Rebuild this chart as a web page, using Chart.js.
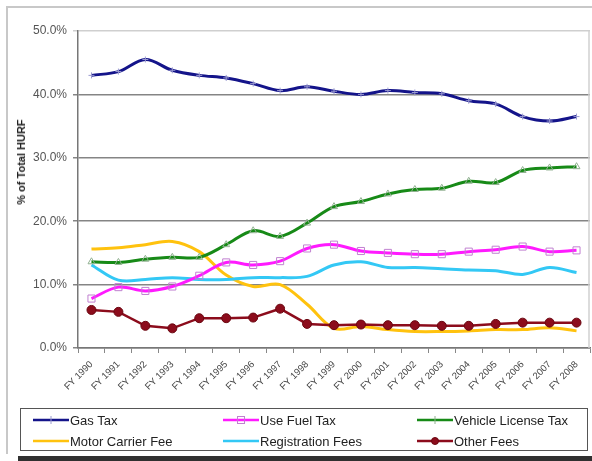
<!DOCTYPE html>
<html>
<head>
<meta charset="utf-8">
<script src="https://cdn.jsdelivr.net/npm/chart.js@4/dist/chart.umd.min.js"></script>
<style>
  html, body { margin: 0; padding: 0; background: #fff; }
  body { width: 592px; height: 461px; position: relative; overflow: hidden; font-family: 'Liberation Sans', Arial, sans-serif; }
  #chart { position: absolute; left: 0; top: 0; }
  .frameTop { position: absolute; left: 7px; top: 6px; width: 585px; height: 0; border-top: 2px solid #c8c8c8; }
  .frameLeft { position: absolute; left: 6px; top: 6px; width: 0; height: 448px; border-left: 2px solid #c8c8c8; }
  .darkBar { position: absolute; left: 18px; top: 456px; width: 574px; height: 5px; background: #303030; }
  #yTitle { position: absolute; left: 21px; top: 162px; transform: translate(-50%, -50%) rotate(-90deg); font-weight: bold; font-size: 11px; color: #222; white-space: nowrap; }
  #legend { position: absolute; left: 20px; top: 408px; width: 566px; height: 41px; border: 1.5px solid #555; }
  .item { position: absolute; height: 16px; display: flex; align-items: center; font-size: 13px; color: #222; white-space: nowrap; }
  .item canvas { margin-right: 1px; }
</style>
</head>
<body>
<div class="frameTop"></div>
<div class="frameLeft"></div>
<!-- canvas a bit wider than the window: Chart.js keeps a few px on the right that the reference plot does not have -->
<canvas id="chart" width="596" height="461"></canvas>
<div id="yTitle">% of Total HURF</div>
<div id="legend"></div>
<div class="darkBar"></div>
<script>
const years = ['FY 1990','FY 1991','FY 1992','FY 1993','FY 1994','FY 1995','FY 1996','FY 1997','FY 1998','FY 1999',
  'FY 2000','FY 2001','FY 2002','FY 2003','FY 2004','FY 2005','FY 2006','FY 2007','FY 2008'];
const gasTax =        [43.0, 43.6, 45.5, 43.8, 43.0, 42.6, 41.7, 40.6, 41.2, 40.5, 40.0, 40.6, 40.3, 40.1, 39.0, 38.5, 36.5, 35.8, 36.5];
const useFuelTax =    [7.8, 9.6, 9.0, 9.7, 11.4, 13.5, 13.1, 13.7, 15.7, 16.3, 15.3, 15.0, 14.8, 14.8, 15.2, 15.5, 16.0, 15.2, 15.4];
const vehicleLicense = [13.6, 13.5, 14.0, 14.3, 14.3, 16.3, 18.5, 17.6, 19.7, 22.3, 23.1, 24.3, 25.0, 25.2, 26.3, 26.1, 28.0, 28.4, 28.6];
const motorCarrier =  [15.6, 15.8, 16.3, 16.8, 15.2, 11.5, 9.7, 10.0, 6.9, 3.1, 3.4, 2.9, 2.6, 2.6, 2.7, 2.9, 2.9, 3.2, 2.7];
const registration =  [13.1, 10.7, 10.8, 11.1, 10.8, 10.8, 11.1, 11.1, 11.3, 13.1, 13.6, 12.7, 12.7, 12.5, 12.3, 12.2, 11.6, 12.7, 11.9];
const otherFees =     [6.0, 5.7, 3.5, 3.1, 4.7, 4.7, 4.8, 6.2, 3.8, 3.6, 3.7, 3.6, 3.6, 3.5, 3.5, 3.8, 4.0, 4.0, 4.0];
const yTicks = [0, 10, 20, 30, 40, 50];

// right edge of the plot area is a thin light line
const plotFrame = {
  id: 'plotFrame',
  beforeDatasetsDraw(chart) {
    const { ctx, chartArea } = chart;
    ctx.save();
    ctx.strokeStyle = '#d0d0d0';
    ctx.lineWidth = 1.5;
    ctx.beginPath();
    ctx.moveTo(chartArea.right - 1, chartArea.top);
    ctx.lineTo(chartArea.right - 1, chartArea.bottom);
    ctx.stroke();
    ctx.restore();
  }
};

const ctx = document.getElementById('chart').getContext('2d');
const chart = new Chart(ctx, {
  type: 'line',
  data: {
    labels: years,
    datasets: [
      { label: 'Gas Tax', data: gasTax, borderColor: '#14148a', borderWidth: 3, tension: 0.35,
        pointStyle: 'cross', pointRadius: 3, pointBorderColor: '#9a9ad0', pointBorderWidth: 1, order: 1 },
      { label: 'Use Fuel Tax', data: useFuelTax, borderColor: '#ff1aff', borderWidth: 3, tension: 0.35,
        pointStyle: 'rect', pointRadius: 5, pointBorderColor: '#c080d0', pointBackgroundColor: 'rgba(0,0,0,0)', pointBorderWidth: 1, order: 2 },
      { label: 'Vehicle License Tax', data: vehicleLicense, borderColor: '#178a17', borderWidth: 3, tension: 0.35,
        pointStyle: 'triangle', pointRadius: 4, pointBorderColor: '#90b090', pointBackgroundColor: 'rgba(0,0,0,0)', pointBorderWidth: 1, order: 3 },
      { label: 'Motor Carrier Fee', data: motorCarrier, borderColor: '#ffc20e', borderWidth: 3, tension: 0.35,
        pointRadius: 0, order: 5 },
      { label: 'Registration Fees', data: registration, borderColor: '#33c8f5', borderWidth: 3, tension: 0.35,
        pointRadius: 0, order: 4 },
      { label: 'Other Fees', data: otherFees, borderColor: '#8c0c1c', borderWidth: 2.5, tension: 0,
        pointStyle: 'circle', pointRadius: 4.5, pointBackgroundColor: '#8c0c1c', pointBorderColor: '#6a0610', pointBorderWidth: 1, order: 0 }
    ]
  },
  options: {
    responsive: false,
    animation: false,
    layout: { padding: { left: 0, top: 31, right: 1, bottom: 58 } },
    plugins: { legend: { display: false }, tooltip: { enabled: false } },
    scales: {
      x: {
        offset: true,
        grid: { offset: true, drawOnChartArea: false, tickLength: 5, color: '#888', lineWidth: 1 },
        border: { color: '#777', width: 1.5 },
        ticks: { minRotation: 45, maxRotation: 45, autoSkip: false, padding: 6,
          font: { family: 'Liberation Sans', size: 9.5 }, color: '#444' },
        afterFit: s => { s.height = 55; s.paddingRight = 0; }
      },
      y: {
        min: 0, max: 50,
        afterBuildTicks: s => { s.ticks = yTicks.map(v => ({ value: v })); },
        grid: { tickLength: 5, lineWidth: 1.5,
          color: c => c.tick && c.tick.value === 50 ? '#cfcfcf' : '#858585' },
        border: { color: '#777', width: 1.5 },
        ticks: { padding: 6, font: { family: 'Liberation Sans', size: 12 }, color: '#555',
          callback: v => v.toFixed(1) + '%' },
        afterFit: s => { s.width = 78; }
      }
    }
  },
  plugins: [plotFrame]
});

// html legend: 3 columns, 2 rows, boxed
const legendEl = document.getElementById('legend');
const colX = [12, 202, 396];
const rowY = [3, 24];
chart.data.datasets.forEach((ds, i) => {
  const item = document.createElement('div');
  item.className = 'item';
  item.style.left = colX[i % 3] + 'px';
  item.style.top = rowY[Math.floor(i / 3)] + 'px';
  const sw = document.createElement('canvas');
  sw.width = 36; sw.height = 14;
  const g = sw.getContext('2d');
  g.strokeStyle = ds.borderColor;
  g.lineWidth = 2.5;
  g.beginPath(); g.moveTo(0, 7); g.lineTo(36, 7); g.stroke();
  if (ds.pointRadius) {
    g.lineWidth = 1;
    g.strokeStyle = ds.pointBorderColor;
    if (ds.pointStyle === 'circle') {
      g.fillStyle = ds.pointBackgroundColor;
      g.beginPath(); g.arc(18, 7, 3.5, 0, Math.PI * 2); g.fill(); g.stroke();
    } else if (ds.pointStyle === 'rect') {
      g.strokeRect(14.5, 3.5, 7, 7);
    } else {
      g.beginPath(); g.moveTo(18, 3); g.lineTo(18, 11); g.stroke();
    }
  }
  item.appendChild(sw);
  const t = document.createElement('span');
  t.textContent = ds.label;
  item.appendChild(t);
  legendEl.appendChild(item);
});
</script>
</body>
</html>
